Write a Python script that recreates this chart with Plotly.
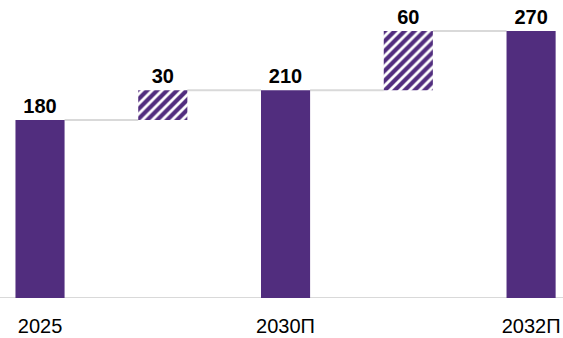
import plotly.graph_objects as go

# Data
categories = ["2025", "2030П", "2032П"]
totals = [180, 210, 270]
increments = [30, 60]
unit_label = "млн т"

PURPLE = "#512D7E"
GRAY = "#D9D9D9"
FONT = "Liberation Sans, Arial, sans-serif"

# Build sequence: total, increment, total, increment, total
xs, bases, vals, is_total, ticktexts = [], [], [], [], []
for i, cat in enumerate(categories):
    xs.append(len(xs)); bases.append(0); vals.append(totals[i]); is_total.append(True); ticktexts.append(cat)
    if i < len(increments):
        xs.append(len(xs)); bases.append(totals[i]); vals.append(increments[i]); is_total.append(False); ticktexts.append("")

bar_w = 0.4
label_font = dict(family=FONT, size=20, color="black", weight="bold")

fig = go.Figure()
tx = [x for x, t in zip(xs, is_total) if t]
fig.add_trace(go.Bar(
    x=tx, y=[v for v, t in zip(vals, is_total) if t],
    base=[b for b, t in zip(bases, is_total) if t],
    width=bar_w, marker=dict(color=PURPLE, line=dict(width=0)),
    text=[str(v) for v, t in zip(vals, is_total) if t],
    textposition="outside", cliponaxis=False, textfont=label_font,
))
ix = [x for x, t in zip(xs, is_total) if not t]
fig.add_trace(go.Bar(
    x=ix, y=[v for v, t in zip(vals, is_total) if not t],
    base=[b for b, t in zip(bases, is_total) if not t],
    width=bar_w,
    marker=dict(color="white", line=dict(width=0),
                pattern=dict(shape="/", fgcolor=PURPLE, bgcolor="white", size=7,
                             solidity=0.6, fgopacity=1)),
    text=[str(v) for v, t in zip(vals, is_total) if not t],
    textposition="outside", cliponaxis=False, textfont=label_font,
))

# connectors
shapes = []
for k in range(len(xs) - 1):
    level = bases[k] + vals[k]
    shapes.append(dict(type="line", xref="x", yref="y",
                       x0=xs[k] + bar_w / 2, x1=xs[k + 1] - bar_w / 2,
                       y0=level, y1=level, line=dict(color=GRAY, width=2), layer="below"))
shapes.append(dict(type="line", xref="paper", yref="y", x0=0, x1=1, y0=0, y1=0,
                   line=dict(color=GRAY, width=2), layer="below"))

fig.update_layout(
    width=563, height=338,
    margin=dict(l=0, r=0, t=0, b=40, autoexpand=False),
    paper_bgcolor="white", plot_bgcolor="white",
    showlegend=False, barmode="overlay",
    shapes=shapes,
    font=dict(family=FONT, color="black"),
    xaxis=dict(range=[-0.326, 4.26], tickmode="array", tickvals=xs, ticktext=ticktexts,
               showgrid=False, zeroline=False, showline=False, ticks="", automargin=False,
               tickfont=dict(family=FONT, size=20, color="black"), ticklabelstandoff=14),
    yaxis=dict(range=[0, 301.3], showgrid=False, zeroline=False, showline=False,
               showticklabels=False, ticks="", automargin=False),
    annotations=[dict(text=unit_label, xref="paper", yref="paper", x=0.02, y=1,
                      xanchor="left", yanchor="bottom", yshift=-5, showarrow=False,
                      font=dict(family=FONT, size=20, color="black", weight="bold"))],
)

fig.write_html("out.html")
